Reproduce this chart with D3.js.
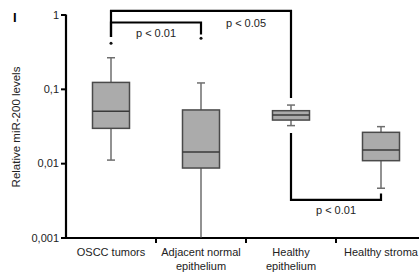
<!DOCTYPE html>
<html>
<head>
<meta charset="utf-8">
<script src="https://cdn.jsdelivr.net/npm/d3@7"></script>
<style>
  body { margin: 0; background: #fff; }
  text { font-family: "Liberation Sans", Arial, sans-serif; }
</style>
</head>
<body>
<svg id="chart"></svg>
<script>
// categories and box stats
const categories = ["OSCC tumors", "Adjacent normal|epithelium", "Healthy|epithelium", "Healthy stroma"];
const whiskerLow = [0.011, 0.001, 0.032, 0.0046];
const q1 = [0.0294, 0.0086, 0.038, 0.0108];
const median = [0.05, 0.0141, 0.0445, 0.015];
const q3 = [0.122, 0.052, 0.0508, 0.026];
const whiskerHigh = [0.262, 0.12, 0.0605, 0.031];
const outliers = [0.41, 0.48, null, null];

const yTicks = [0.001, 0.01, 0.1, 1];

// significance brackets
const bracketLabels = ["p < 0.01", "p < 0.05", "p < 0.01"];
const bracketPairs = [[0, 1], [0, 2], [2, 3]];
const bracketLevel = [0.78, 1.12, 0.0032];
const bracketEnds = [[0.5, 0.54], [0.5, 0.075], [0.0255, 0.0039]];
const bracketLabelAt = [0.5, 1.5, 2.5];

const width = 419, height = 277;
const svg = d3.select("#chart").attr("width", width).attr("height", height);

const x = d3.scaleBand().domain(categories).range([66, 426]);
const y = d3.scaleLog().domain([0.001, 1]).range([237.5, 14.5]);
const cx = i => x(categories[i]) + x.bandwidth() / 2;
const boxW = 37;

/**
 * Y axis
 */
const yAxis = d3.axisLeft(y)
  .tickValues(yTicks)
  .tickSize(5)
  .tickFormat(d => String(d).replace(".", ","));

const yg = svg.append("g").attr("transform", "translate(66,0)").call(yAxis);
yg.select(".domain").attr("stroke-width", 2.2).attr("d", "M0,14.5V238.5");
yg.selectAll(".tick line").attr("stroke-width", 2);
yg.selectAll(".tick text").attr("font-size", 11).attr("x", -7).attr("fill", "#222");

/**
 * X axis (ticks between categories)
 */
svg.append("line")
  .attr("x1", 62).attr("x2", width)
  .attr("y1", 238).attr("y2", 238)
  .attr("stroke", "#000").attr("stroke-width", 2.2);

svg.selectAll(".xtick")
  .data(categories.slice(1))
  .enter()
  .append("line")
  .attr("x1", d => x(d)).attr("x2", d => x(d))
  .attr("y1", 238).attr("y2", 243)
  .attr("stroke", "#000").attr("stroke-width", 2);

const xl = svg.selectAll(".xlabel")
  .data(categories)
  .enter()
  .append("text")
  .attr("text-anchor", "middle")
  .attr("font-size", 11)
  .attr("fill", "#222")
  .attr("transform", d => `translate(${x(d) + x.bandwidth() / 2},0)`);

xl.selectAll("tspan")
  .data(d => d.split("|"))
  .enter()
  .append("tspan")
  .attr("x", 0)
  .attr("y", (d, i) => 256 + i * 14)
  .text(d => d);

/**
 * Boxes
 */
const boxes = svg.selectAll(".box")
  .data(categories)
  .enter()
  .append("g");

boxes.append("line")
  .attr("x1", (d, i) => cx(i)).attr("x2", (d, i) => cx(i))
  .attr("y1", (d, i) => y(whiskerLow[i])).attr("y2", (d, i) => y(whiskerHigh[i]))
  .attr("stroke", "#6e6e6e").attr("stroke-width", 1.5);

boxes.selectAll(".cap")
  .data((d, i) => [whiskerLow[i], whiskerHigh[i]].map(v => ({ v, i })).filter(c => c.v > 0.001))
  .enter()
  .append("line")
  .attr("x1", c => cx(c.i) - 4).attr("x2", c => cx(c.i) + 4)
  .attr("y1", c => y(c.v)).attr("y2", c => y(c.v))
  .attr("stroke", "#6e6e6e").attr("stroke-width", 1.5);

boxes.append("rect")
  .attr("x", (d, i) => cx(i) - boxW / 2)
  .attr("width", boxW)
  .attr("y", (d, i) => y(q3[i]))
  .attr("height", (d, i) => y(q1[i]) - y(q3[i]))
  .attr("fill", "#ababab")
  .attr("stroke", "#4a4a4a")
  .attr("stroke-width", 1.5);

boxes.append("line")
  .attr("x1", (d, i) => cx(i) - boxW / 2).attr("x2", (d, i) => cx(i) + boxW / 2)
  .attr("y1", (d, i) => y(median[i])).attr("y2", (d, i) => y(median[i]))
  .attr("stroke", "#3a3a3a").attr("stroke-width", 1.5);

svg.selectAll(".outlier")
  .data(outliers.map((v, i) => ({ v, i })).filter(o => o.v !== null))
  .enter()
  .append("circle")
  .attr("cx", o => cx(o.i))
  .attr("cy", o => y(o.v))
  .attr("r", 1.5)
  .attr("fill", "#111");

/**
 * Brackets
 */
const br = svg.selectAll(".bracket")
  .data(bracketLabels)
  .enter()
  .append("g");

br.append("path")
  .attr("d", (d, i) => {
    const [a, b] = bracketPairs[i];
    const yl = y(bracketLevel[i]);
    return `M${cx(a)},${y(bracketEnds[i][0])}V${yl}H${cx(b)}V${y(bracketEnds[i][1])}`;
  })
  .attr("fill", "none")
  .attr("stroke", "#000")
  .attr("stroke-width", 2.2);

br.append("text")
  .attr("x", (d, i) => x.range()[0] + x.step() * (bracketLabelAt[i] + 0.5))
  .attr("y", (d, i) => y(bracketLevel[i]) + (i === 1 ? 16 : 14))
  .attr("text-anchor", "middle")
  .attr("font-size", 11)
  .attr("fill", "#222")
  .text(d => d);

/**
 * Axis title and panel letter
 */
svg.append("text")
  .attr("transform", "translate(20,127) rotate(-90)")
  .attr("text-anchor", "middle")
  .attr("font-size", 11.5)
  .attr("fill", "#222")
  .text("Relative miR-200 levels");

svg.append("text")
  .attr("x", 13).attr("y", 22)
  .attr("font-size", 13)
  .attr("font-weight", "bold")
  .text("I");
</script>
</body>
</html>
